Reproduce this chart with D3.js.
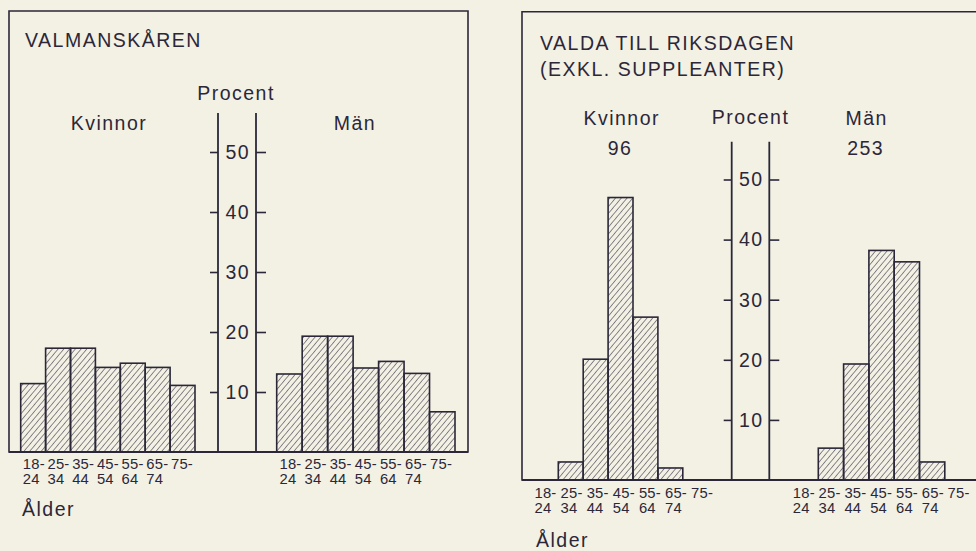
<!DOCTYPE html>
<html>
<head>
<meta charset="utf-8">
<title>Valmanskåren och valda till riksdagen</title>
<script src="https://d3js.org/d3.v7.min.js"></script>
<style>
  body { margin: 0; background: #f3f1e4; }
  svg text { font-family: "Liberation Sans", Arial, Helvetica, sans-serif; fill: #2b2739; }
  .big { font-size: 19.5px; letter-spacing: 1.5px; }
  .age { font-size: 14.8px; letter-spacing: 0.2px; }
  .frame { fill: none; stroke: #2b2739; stroke-width: 1.6px; }
  .axisline { stroke: #2b2739; stroke-width: 1.8px; }
  .tick line { stroke: #2b2739; stroke-width: 1.6px; }
  .bar { fill: url(#hatch); stroke: #2b2739; stroke-width: 1.6px; }
</style>
</head>
<body>
<svg id="chart" width="976" height="551"></svg>
<script>
// age groups (two rows under each bar)
const ageTop = ["18-", "25-", "35-", "45-", "55-", "65-", "75-"];
const ageBottom = ["24", "34", "44", "54", "64", "74", ""];
const ageKeys = ["18-24", "25-34", "35-44", "45-54", "55-64", "65-74", "75-"];

// percent per age group
const valmanWomen = [11.4, 17.3, 17.3, 14.1, 14.8, 14.1, 11.1];
const valmanMen   = [13.0, 19.3, 19.3, 14.0, 15.1, 13.1, 6.7];
const riksWomen   = [0, 3.0, 20.1, 47.0, 27.1, 2.0, 0];
const riksMen     = [0, 5.3, 19.3, 38.2, 36.3, 3.0, 0];

const yTicks = [10, 20, 30, 40, 50];
const riksCounts = ["96", "253"];

const svg = d3.select("#chart");

// hatch pattern for bars
const defs = svg.append("defs");
defs.append("pattern")
    .attr("id", "hatch")
    .attr("patternUnits", "userSpaceOnUse")
    .attr("width", 4.4).attr("height", 10)
    .attr("patternTransform", "rotate(40)")
  .append("line")
    .attr("x1", 0).attr("y1", 0).attr("x2", 0).attr("y2", 10)
    .attr("stroke", "#352f45").attr("stroke-width", 1.1);

const panels = [
  { title: ["VALMANSKÅREN"], titleX: 25, titleY: [47],
    frame: { left: 9, top: 11, right: 468 }, base: 452, y50: 152,
    axisX: [218, 256], axisTop: 113,
    women: { values: valmanWomen, bars: [20.7, 195], labels: [22.8, 195.7] },
    men:   { values: valmanMen, bars: [276.7, 455], labels: [279.5, 455.2] },
    womenHead: [109, 129.5], menHead: [355, 129.5], procent: [236, 99.5],
    counts: null, alder: [22, 516], ageY: [469, 484] },
  { title: ["VALDA TILL RIKSDAGEN", "(EXKL. SUPPLEANTER)"], titleX: 540, titleY: [49.5, 75.5],
    frame: { left: 522, top: 11.7, right: 990 }, base: 480, y50: 179.5,
    axisX: [731.7, 769.3], axisTop: 141.7,
    women: { values: riksWomen, bars: [533.4, 707.7], labels: [534.5, 717.2] },
    men:   { values: riksMen, bars: [793, 970.1], labels: [792.8, 973.4] },
    womenHead: [621.7, 125], menHead: [866.7, 125], procent: [750.5, 124],
    counts: [[620, 154.7], [865.7, 154.7]], alder: [536, 547], ageY: [498, 513] }
];

panels.forEach(p => {
  const g = svg.append("g");
  const y = d3.scaleLinear().domain([0, 50]).range([p.base, p.y50]);

  // frame (box closed by the baseline)
  g.append("path").attr("class", "frame")
    .attr("d", `M${p.frame.left},${p.base}V${p.frame.top}H${p.frame.right}V${p.base}Z`);

  // titles
  p.title.forEach((t, i) => {
    g.append("text").attr("class", "big").attr("x", p.titleX).attr("y", p.titleY[i]).text(t);
  });

  // Procent axis: two vertical lines with outward ticks
  p.axisX.forEach(ax => {
    g.append("line").attr("class", "axisline")
      .attr("x1", ax).attr("x2", ax).attr("y1", p.axisTop).attr("y2", p.base);
  });
  g.append("g").attr("transform", `translate(${p.axisX[0]},0)`)
    .call(d3.axisLeft(y).tickValues(yTicks).tickSize(8).tickFormat(""))
    .call(a => a.select(".domain").remove());
  g.append("g").attr("transform", `translate(${p.axisX[1]},0)`)
    .call(d3.axisRight(y).tickValues(yTicks).tickSize(10).tickFormat(""))
    .call(a => a.select(".domain").remove());
  const mid = (p.axisX[0] + p.axisX[1]) / 2 + 0.8;
  g.selectAll("text.ytl").data(yTicks).join("text")
    .attr("class", "ytl big")
    .attr("x", mid).attr("y", d => y(d) + 6.8)
    .attr("text-anchor", "middle")
    .text(d => d);

  g.append("text").attr("class", "big").attr("text-anchor", "middle")
    .attr("x", p.procent[0]).attr("y", p.procent[1]).text("Procent");
  g.append("text").attr("class", "big").attr("text-anchor", "middle")
    .attr("x", p.womenHead[0]).attr("y", p.womenHead[1]).text("Kvinnor");
  g.append("text").attr("class", "big").attr("text-anchor", "middle")
    .attr("x", p.menHead[0]).attr("y", p.menHead[1]).text("Män");
  if (p.counts) {
    p.counts.forEach((c, i) => {
      g.append("text").attr("class", "big").attr("text-anchor", "middle")
        .attr("x", c[0]).attr("y", c[1]).text(riksCounts[i]);
    });
  }

  // bars + age labels for each sex
  [p.women, p.men].forEach(s => {
    const x = d3.scaleBand().domain(ageKeys).range(s.bars).padding(0);
    const xl = d3.scaleBand().domain(ageKeys).range(s.labels).padding(0);
    const rows = ageKeys.map((k, i) => ({ k: k, v: s.values[i], top: ageTop[i], bottom: ageBottom[i] }));

    g.selectAll(null).data(rows.filter(d => d.v > 0)).join("rect")
      .attr("class", "bar")
      .attr("x", d => x(d.k))
      .attr("y", d => y(d.v))
      .attr("width", x.bandwidth())
      .attr("height", d => y(0) - y(d.v));

    g.selectAll(null).data(rows).join("text")
      .attr("class", "age")
      .attr("x", d => xl(d.k)).attr("y", p.ageY[0])
      .text(d => d.top);
    g.selectAll(null).data(rows).join("text")
      .attr("class", "age")
      .attr("x", d => xl(d.k)).attr("y", p.ageY[1])
      .text(d => d.bottom);
  });

  // baseline drawn on top of bars
  g.append("line").attr("class", "axisline")
    .attr("x1", p.frame.left).attr("x2", p.frame.right)
    .attr("y1", p.base).attr("y2", p.base);

  g.append("text").attr("class", "big").attr("x", p.alder[0]).attr("y", p.alder[1]).text("Ålder");
});
</script>
</body>
</html>
